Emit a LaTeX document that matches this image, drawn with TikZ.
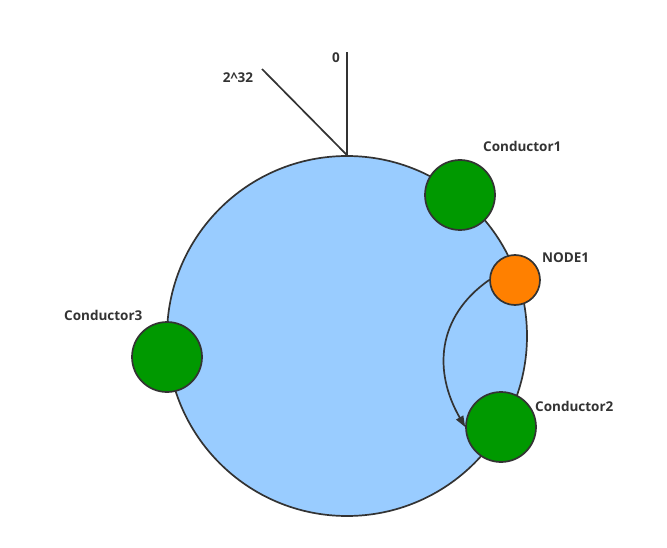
\documentclass[tikz,border=0pt]{standalone}
\usepackage{fontspec}
\setmainfont{Open Sans}
\usetikzlibrary{positioning, arrows.meta}
\definecolor{ringblue}{HTML}{99CCFF}
\definecolor{condgreen}{HTML}{009900}
\definecolor{nodeorange}{HTML}{FF8000}
\definecolor{strokegray}{HTML}{333333}

\begin{document}
\begin{tikzpicture}[
    x=1pt, y=-1pt,
    >={Triangle[length=11pt, width=8pt]},
    font=\fontsize{13.5}{16}\selectfont\bfseries,
    ring/.style={circle, draw=strokegray, fill=ringblue, line width=1.7pt, minimum size=360pt, inner sep=0pt},
    conductor/.style={circle, draw=strokegray, fill=condgreen, line width=1.7pt, minimum size=70pt, inner sep=0pt},
    hashnode/.style={circle, draw=strokegray, fill=nodeorange, line width=1.7pt, minimum size=50pt, inner sep=0pt},
    lbl/.style={text=strokegray, inner sep=0pt},
    axis/.style={draw=strokegray, line width=1.7pt},
    arrow/.style={->, draw=strokegray, line width=1.7pt}
]
\useasboundingbox (0,0) rectangle (667,548);

%% hash ring
\node[ring] (ring) at (347,336) {};

\coordinate (zero) at (347,52);
\coordinate (wrap) at (262,69);
\draw[axis] (ring.north) -- (zero);
\draw[axis] (ring.north) -- (wrap);
\node[lbl] (zerolbl) at (336,58) {0};
\node[lbl] (wraplbl) at (238,78) {2\^{}32};

%% conductors and node
\node[conductor] (c1) at (460,195) {};
\node[conductor] (c2) at (501,427) {};
\node[conductor] (c3) at (167,357) {};
\node[hashnode] (n1) at (515,280) {};

\node[lbl, anchor=west] (c1lbl) at (483,146) {Conductor1};
\node[lbl, anchor=west] (c2lbl) at (535,406) {Conductor2};
\node[lbl, anchor=west] (c3lbl) at (64,315) {Conductor3};
\node[lbl, anchor=west] (n1lbl) at (542,258) {NODE1};

\draw[arrow] (n1.west) to[out=215, in=120, looseness=1.1] (c2.west);

\end{tikzpicture}
\end{document}
